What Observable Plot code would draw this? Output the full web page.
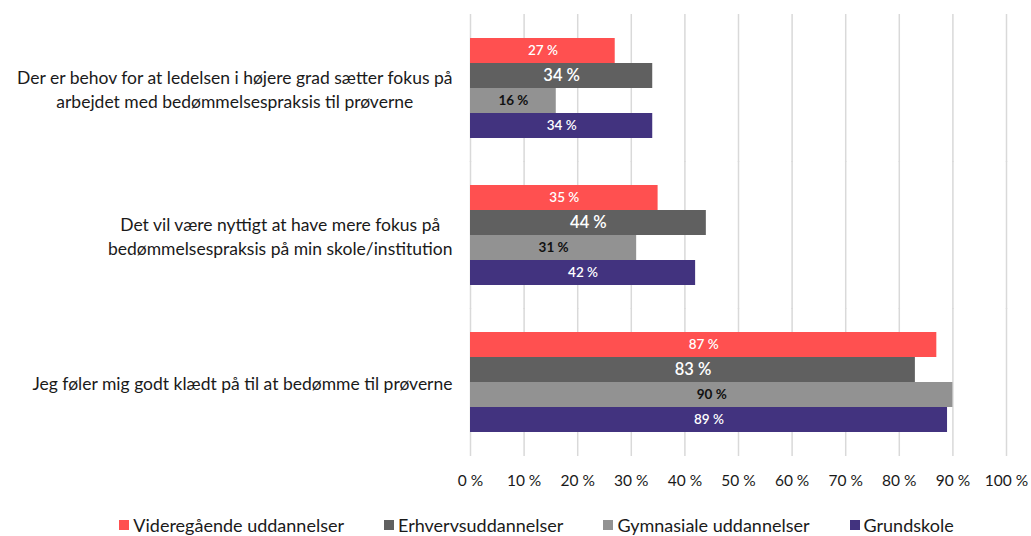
<!DOCTYPE html>
<html>
<head>
<meta charset="utf-8">
<script src="https://cdn.jsdelivr.net/npm/d3@7"></script>
<script src="https://cdn.jsdelivr.net/npm/@observablehq/plot@0.6"></script>
<style>
  html, body { margin: 0; padding: 0; background: #fff; }
  body { width: 1031px; height: 536px; overflow: hidden; font-family: Lato, "Open Sans", sans-serif; }
  #legend { display: flex; justify-content: center; gap: 40px; margin-top: 14px; font-size: 18px; color: #1a1a1a; padding-left: 42px; }
  #legend .item { display: flex; align-items: center; gap: 4px; }
  #legend .sw { width: 10px; height: 10px; display: inline-block; }
</style>
</head>
<body>
<div id="chart"></div>
<div id="legend"></div>
<script>
const categories = [
  "Der er behov for at ledelsen i højere grad sætter fokus på\narbejdet med bedømmelsespraksis til prøverne",
  "Det vil være nyttigt at have mere fokus på\nbedømmelsespraksis på min skole/institution",
  "Jeg føler mig godt klædt på til at bedømme til prøverne"
];
const series = ["Videregående uddannelser", "Erhvervsuddannelser", "Gymnasiale uddannelser", "Grundskole"];
const videregaaende = [27, 35, 87];
const erhverv = [34, 44, 83];
const gymnasiale = [16, 31, 90];
const grundskole = [34, 42, 89];
const xTicks = [0, 10, 20, 30, 40, 50, 60, 70, 80, 90, 100];

const colors = ["#FF5050", "#606060", "#929292", "#42337F"];
const labelStyles = [
  {fill: "white", fontSize: 13.5, fontWeight: 600},
  {fill: "white", fontSize: 16.5, fontWeight: 600},
  {fill: "#111", fontSize: 13.5, fontWeight: 700},
  {fill: "white", fontSize: 13.5, fontWeight: 600}
];

const valueSets = [videregaaende, erhverv, gymnasiale, grundskole];
const rows = [];
series.forEach((s, i) => categories.forEach((c, j) => rows.push({category: c, series: s, value: valueSets[i][j]})));

const chart = Plot.plot({
  width: 1031,
  height: 500,
  marginLeft: 470,
  marginRight: 25,
  marginTop: 14,
  marginBottom: 45,
  style: {fontFamily: "Lato, 'Open Sans', sans-serif", background: "white"},
  x: {domain: [0, 100], axis: null},
  y: {domain: series, padding: 0, axis: null},
  fy: {domain: categories, paddingInner: 0.32, paddingOuter: 0.16, axis: null},
  color: {domain: series, range: colors},
  marks: [
    Plot.ruleX(xTicks, {stroke: "#d9d9d9", strokeWidth: 1.5, insetTop: -24, insetBottom: -24}),
    Plot.barX(rows, {x: "value", y: "series", fy: "category", fill: "series"}),
    ...series.map((s, i) => Plot.text(rows.filter(r => r.series === s), {
      x: d => d.value / 2, y: "series", fy: "category",
      text: d => `${d.value} %`,
      ...labelStyles[i]
    })),
    Plot.axisX(xTicks, {tickSize: 0, tickPadding: 42, fontSize: 15.5, tickFormat: d => `${d} %`, fill: "#1a1a1a", label: null}),
    Plot.axisFy({anchor: "left", tickSize: 0, tickPadding: 18, fontSize: 17.5, fill: "#1a1a1a", lineHeight: 1.35, label: null})
  ]
});
document.getElementById("chart").appendChild(chart);

// Excel-style label blocks: right-aligned block, lines centered within it
chart.querySelectorAll('g[aria-label="fy-axis tick label"] text').forEach(t => {
  const w = t.getBBox().width;
  t.setAttribute("text-anchor", "middle");
  const tr = t.getAttribute("transform") || "";
  t.setAttribute("transform", tr + ` translate(${-w / 2},0)`);
});

const legend = d3.select("#legend");
series.forEach((s, i) => {
  const it = legend.append("div").attr("class", "item");
  it.append("span").attr("class", "sw").style("background", colors[i]);
  it.append("span").text(s);
});
</script>
</body>
</html>
